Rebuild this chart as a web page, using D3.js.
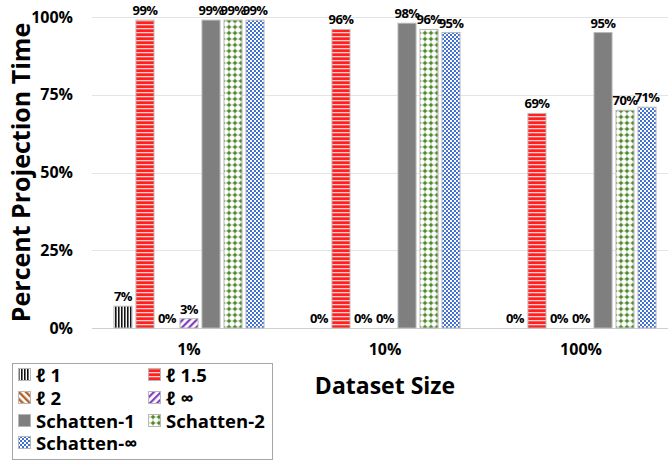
<!DOCTYPE html>
<html>
<head>
<meta charset="utf-8">
<script src="https://cdn.jsdelivr.net/npm/d3@7"></script>
<style>
  html, body { margin: 0; padding: 0; background: #fff; }
  svg text { font-family: "Open Sans", Lato, sans-serif; font-weight: bold; fill: #000; }
</style>
</head>
<body>
<div id="chart"></div>
<script>
// Data
const categories = ['1%', '10%', '100%'];
const seriesNames = ['ℓ 1', 'ℓ 1.5', 'ℓ 2', 'ℓ ∞', 'Schatten-1', 'Schatten-2', 'Schatten-∞'];
const seriesKeys = ['l1', 'l15', 'l2', 'linf', 's1', 's2', 'sinf'];
const l1Values = [7, 0, 0];
const l15Values = [99, 96, 69];
const l2Values = [0, 0, 0];
const linfValues = [3, 0, 0];
const s1Values = [99, 98, 95];
const s2Values = [99, 96, 70];
const sinfValues = [99, 95, 71];
const yTicks = [0, 25, 50, 75, 100];

const valuesByKey = {
  l1: l1Values, l15: l15Values, l2: l2Values, linf: linfValues,
  s1: s1Values, s2: s2Values, sinf: sinfValues,
};

const W = 668, H = 460;
const margin = { top: 17, right: -11, bottom: 132, left: 91 };

const svg = d3.select('#chart').append('svg')
  .attr('width', W)
  .attr('height', H);

// Patterns
const defs = svg.append('defs');

function pattern(id, w, h, bg) {
  const p = defs.append('pattern')
    .attr('id', id)
    .attr('patternUnits', 'userSpaceOnUse')
    .attr('width', w)
    .attr('height', h);
  p.append('rect').attr('width', w).attr('height', h).attr('fill', bg);
  return p;
}

// l1 — black vertical lines
pattern('p-l1', 3, 3, '#fff')
  .append('rect').attr('x', 0).attr('width', 1.6).attr('height', 3).attr('fill', '#111');

// l1.5 — red with thin white horizontal lines
pattern('p-l15', 4, 4, '#ff2020')
  .append('rect').attr('y', 0).attr('width', 4).attr('height', 1.3).attr('fill', '#ffd0d0');

// l2 — brown "\" stripes
const pl2 = pattern('p-l2', 5, 5, '#fff').attr('patternTransform', 'rotate(-45)');
pl2.append('rect').attr('width', 2.4).attr('height', 5).attr('fill', '#b4622a');

// linf — purple "/" stripes
const plinf = pattern('p-linf', 5, 5, '#fff').attr('patternTransform', 'rotate(45)');
plinf.append('rect').attr('width', 2.2).attr('height', 5).attr('fill', '#7f3fbf');

// Schatten-2 — green dots with faint grid
const ps2 = pattern('p-s2', 6, 6, '#fff');
ps2.append('rect').attr('x', 2.6).attr('width', 0.8).attr('height', 6).attr('fill', '#9bbb80');
ps2.append('rect').attr('y', 2.6).attr('width', 6).attr('height', 0.8).attr('fill', '#9bbb80');
ps2.append('circle').attr('cx', 3).attr('cy', 3).attr('r', 1.8).attr('fill', '#4f8a2f');

// Schatten-inf — blue checker
const psinf = pattern('p-sinf', 4, 4, '#fff');
psinf.append('rect').attr('width', 2).attr('height', 2).attr('fill', '#3f6fd0');
psinf.append('rect').attr('x', 2).attr('y', 2).attr('width', 2).attr('height', 2).attr('fill', '#3f6fd0');

const fills = {
  l1: 'url(#p-l1)', l15: 'url(#p-l15)', l2: 'url(#p-l2)', linf: 'url(#p-linf)',
  s1: '#7f7f7f', s2: 'url(#p-s2)', sinf: 'url(#p-sinf)',
};

// Scales
const x0 = d3.scaleBand()
  .domain(categories)
  .range([margin.left, W - margin.right])
  .paddingInner(0.214)
  .paddingOuter(0.107);

const x1 = d3.scaleBand()
  .domain(seriesKeys)
  .range([0, x0.bandwidth()])
  .paddingInner(0.18)
  .paddingOuter(0.09);

const y = d3.scaleLinear()
  .domain([0, 100])
  .range([H - margin.bottom, margin.top]);

// Gridlines
const grid = svg.append('g').attr('class', 'grid');
yTicks.forEach(t => {
  grid.append('line')
    .attr('x1', margin.left + 1)
    .attr('x2', W)
    .attr('y1', Math.round(y(t)) + 0.5)
    .attr('y2', Math.round(y(t)) + 0.5)
    .attr('stroke', t === 0 ? '#d0d0d0' : '#e4e4e4')
    .attr('stroke-width', 1);
});

// Y axis labels
const yAxis = svg.append('g')
  .attr('transform', `translate(${margin.left - 18},0)`)
  .call(d3.axisLeft(y).tickValues(yTicks).tickFormat(d => d + '%').tickSize(0).tickPadding(0));
yAxis.select('.domain').remove();
yAxis.selectAll('text')
  .attr('font-size', 16)
  .attr('font-family', '"Open Sans", sans-serif')
  .attr('font-weight', 'bold')
  .attr('fill', '#000');

// X axis category labels
const xAxis = svg.append('g')
  .attr('transform', `translate(0,${H - margin.bottom + 16})`)
  .call(d3.axisBottom(x0).tickSize(0).tickPadding(0));
xAxis.select('.domain').remove();
xAxis.selectAll('text')
  .attr('font-size', 16)
  .attr('font-family', '"Open Sans", sans-serif')
  .attr('font-weight', 'bold')
  .attr('fill', '#000');

// Bars
const groups = svg.append('g').attr('class', 'bars')
  .selectAll('g')
  .data(categories)
  .join('g')
  .attr('transform', c => `translate(${x0(c)},0)`);

groups.each(function(c, ci) {
  const g = d3.select(this);
  seriesKeys.forEach(k => {
    const v = valuesByKey[k][ci];
    g.append('rect')
      .attr('x', x1(k))
      .attr('y', y(v))
      .attr('width', x1.bandwidth())
      .attr('height', y(0) - y(v))
      .attr('fill', fills[k])
      .attr('stroke', '#b8b8b8')
      .attr('stroke-width', v === 0 ? 2.5 : 1);

    g.append('text')
      .attr('x', x1(k) + x1.bandwidth() / 2)
      .attr('y', y(v) - 5)
      .attr('text-anchor', 'middle')
      .attr('font-size', 13)
      .attr('letter-spacing', -0.6)
      .text(v + '%');
  });
});

// Axis titles
svg.append('text')
  .attr('transform', `translate(30,${(y(0) + y(100)) / 2}) rotate(-90)`)
  .attr('text-anchor', 'middle')
  .attr('font-size', 25)
  .text('Percent Projection Time');

svg.append('text')
  .attr('x', 385)
  .attr('y', 394)
  .attr('text-anchor', 'middle')
  .attr('font-size', 23)
  .text('Dataset Size');

// Legend
const legend = svg.append('g').attr('class', 'legend');
legend.append('rect')
  .attr('x', 12.5)
  .attr('y', 363.5)
  .attr('width', 260)
  .attr('height', 96)
  .attr('fill', '#fff')
  .attr('stroke', '#a6a6a6');

const colX = [18, 148];
const rowY = [375, 398, 421, 443];
seriesKeys.forEach((k, i) => {
  const cx = colX[i % 2];
  const cy = rowY[Math.floor(i / 2)];
  legend.append('rect')
    .attr('x', cx + 0.5)
    .attr('y', cy - 6.5)
    .attr('width', 12)
    .attr('height', 12)
    .attr('fill', fills[k])
    .attr('stroke', '#b8b8b8');
  legend.append('text')
    .attr('x', cx + 18)
    .attr('y', cy + 7)
    .attr('font-size', 18.5)
    .text(seriesNames[i]);
});
</script>
</body>
</html>
